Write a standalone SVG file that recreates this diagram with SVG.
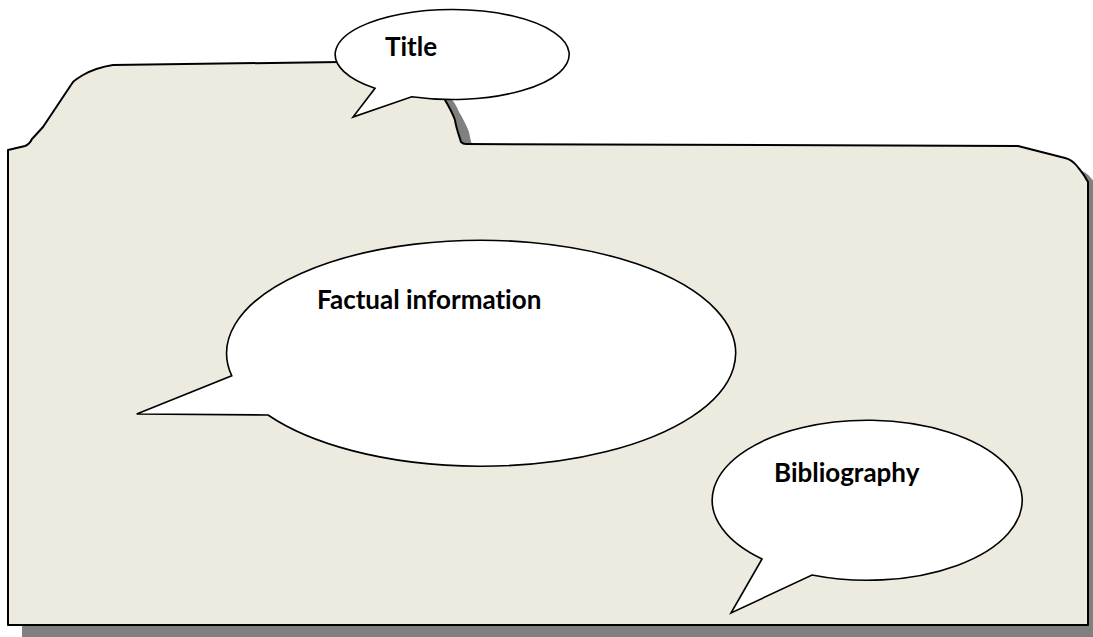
<svg xmlns="http://www.w3.org/2000/svg" width="1093" height="637" viewBox="0 0 1093 637">
  <style>
    .folder { fill: #EDEBE0; stroke: #000; stroke-width: 2; stroke-linejoin: round; }
    .shadow { fill: #808080; stroke: none; }
    .bubble { fill: #FFFFFF; stroke: #000; stroke-width: 1.6; stroke-linejoin: miter; }
    .label { font-family: Lato, "Open Sans", "Liberation Sans", sans-serif; font-weight: bold; font-size: 26px; fill: #000; font-variant-ligatures: none; }
  </style>
  <defs>
    <path id="folderShape" d="M 8,150 L 8,625 L 1088,625 L 1088,182 C 1084,174 1080,170 1077,166 C 1073,161 1069,159 1065,158 L 1018,146 L 466,144 C 463,144 462,143 461,142 C 459,135 456,128 455,120 C 452,112 448,105 445,100 C 440,85 420,64 380,62 L 340,62 L 113,65 C 100,67 90,71 83,75 C 78,78 75,80 73,82 L 43,127 L 32,139 C 30,143 28,145 25,146 L 8,150 Z"/>
  </defs>
  <rect width="1093" height="637" fill="#FFFFFF"/>
  <g id="folder">
    <use href="#folderShape" class="shadow" transform="translate(14,12)"/>
    <use href="#folderShape" class="folder"/>
  </g>
  <g id="title">
    <path class="bubble" d="M 411.7,96.7 A 117 45 0 1 0 375,88.3 L 353,117 Z"/>
    <text class="label" x="385" y="56">Title</text>
  </g>
  <g id="factual">
    <path class="bubble" d="M 268,415 A 254.5 113 0 1 0 231.7,375.7 L 136.7,414 Z"/>
    <text class="label" x="317" y="309">Factual information</text>
  </g>
  <g id="bibliography">
    <path class="bubble" d="M 812,575 A 155 80 0 1 0 762,559 L 731,613 Z"/>
    <text class="label" x="774" y="482">Bibliography</text>
  </g>
</svg>
